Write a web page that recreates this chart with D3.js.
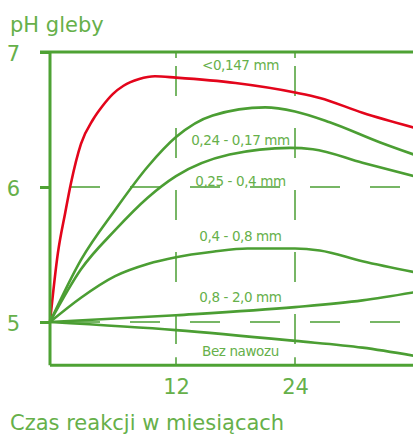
<!DOCTYPE html>
<html>
<head>
<meta charset="utf-8">
<script src="https://cdn.jsdelivr.net/npm/d3@7"></script>
<style>
  body { margin: 0; background: #fff; }
  svg { display: block; font-family: "DejaVu Sans", sans-serif; }
</style>
</head>
<body>
<svg id="chart" width="413" height="434"></svg>
<script>
// dane (miesiące / pH)
const yTicks = [5, 6, 7];
const xTicks = [12, 24];

const redMonths = [0, 0.75, 1.45, 2, 2.95, 4.1, 5, 6, 7, 8.5, 10, 12, 18, 24, 26.5, 30.8, 36];
const redPh     = [5, 5.51, 5.81, 6.03, 6.32, 6.50, 6.60, 6.69, 6.75, 6.80, 6.82, 6.81, 6.77, 6.70, 6.66, 6.55, 6.44];

const g1Months = [0, 2.95, 6.2, 9.3, 12, 15.7, 21, 24, 27.5, 32.6, 36];
const g1Ph     = [5, 5.46, 5.83, 6.15, 6.37, 6.53, 6.59, 6.56, 6.48, 6.33, 6.24];

const g2Months = [0, 2.95, 6.2, 9.3, 12, 17.4, 23.5, 25.8, 30.8, 36];
const g2Ph     = [5, 5.39, 5.68, 5.92, 6.08, 6.24, 6.29, 6.28, 6.18, 6.08];

const g3Months = [0, 2.95, 6.2, 9.3, 12, 15.7, 19.2, 24, 26.5, 30.8, 36];
const g3Ph     = [5, 5.18, 5.34, 5.43, 5.48, 5.52, 5.545, 5.545, 5.53, 5.45, 5.37];

const g4Months = [0, 12, 24, 30.8, 36];
const g4Ph     = [5, 5.05, 5.11, 5.16, 5.22];

const g5Months = [0, 12, 24, 30.8, 36];
const g5Ph     = [5, 4.94, 4.86, 4.81, 4.75];

const labels = ["<0,147 mm", "0,24 - 0,17 mm", "0,25 - 0,4 mm", "0,4 - 0,8 mm", "0,8 - 2,0 mm", "Bez nawozu"];
const labelPh = [6.87, 6.31, 6.01, 5.60, 5.15, 4.75];

const axisColor = "#4ea234";
const lineColor = "#4b9e33";
const textColor = "#66b04a";
const red = "#e3051b";

const svg = d3.select("#chart");

const x = d3.scaleLinear().domain([0, 12, 24, 36]).range([50, 176, 295, 414]);
const y = d3.scaleLinear().domain([5, 7]).range([322, 52]);
const yBottom = 4.68;

const series = [
  { m: redMonths, v: redPh, c: red },
  { m: g1Months, v: g1Ph, c: lineColor },
  { m: g2Months, v: g2Ph, c: lineColor },
  { m: g3Months, v: g3Ph, c: lineColor },
  { m: g4Months, v: g4Ph, c: lineColor },
  { m: g5Months, v: g5Ph, c: lineColor }
];

// siatka przerywana
svg.selectAll(".hgrid")
  .data([5, 6])
  .enter()
  .append("line")
  .attr("x1", x(0)).attr("x2", x(36))
  .attr("y1", d => y(d)).attr("y2", d => y(d))
  .attr("stroke", lineColor)
  .attr("stroke-width", 1.5)
  .attr("stroke-dasharray", "30 30")
  .attr("stroke-dashoffset", 40);

svg.selectAll(".vgrid")
  .data(xTicks)
  .enter()
  .append("line")
  .attr("x1", d => x(d)).attr("x2", d => x(d))
  .attr("y1", y(7)).attr("y2", y(yBottom))
  .attr("stroke", lineColor)
  .attr("stroke-width", 1.5)
  .attr("stroke-dasharray", "30 32")
  .attr("stroke-dashoffset", 48);

// krótkie kreski przy górnej i dolnej linii
xTicks.forEach(t => {
  svg.append("line")
    .attr("x1", x(t)).attr("x2", x(t))
    .attr("y1", y(7)).attr("y2", y(7) + 6)
    .attr("stroke", lineColor).attr("stroke-width", 1.5);
  svg.append("line")
    .attr("x1", x(t)).attr("x2", x(t))
    .attr("y1", y(yBottom) - 8).attr("y2", y(yBottom))
    .attr("stroke", lineColor).attr("stroke-width", 1.5);
});

// krzywe
const line = d3.line()
  .x(d => x(d[0]))
  .y(d => y(d[1]))
  .curve(d3.curveMonotoneX);

series.forEach(s => {
  svg.append("path")
    .datum(s.m.map((m, i) => [m, s.v[i]]))
    .attr("fill", "none")
    .attr("stroke", s.c)
    .attr("stroke-width", 2.6)
    .attr("d", line);
});

// etykiety krzywych
svg.selectAll(".lbl")
  .data(labels)
  .enter()
  .append("text")
  .attr("x", x(18.5))
  .attr("y", (d, i) => y(labelPh[i]))
  .attr("text-anchor", "middle")
  .attr("fill", textColor)
  .attr("font-size", 13.5)
  .attr("letter-spacing", -0.4)
  .text(d => d);

// osie
svg.append("line")
  .attr("x1", x(0) - 10).attr("x2", x(36))
  .attr("y1", y(7)).attr("y2", y(7))
  .attr("stroke", axisColor).attr("stroke-width", 3);

svg.append("line")
  .attr("x1", x(0)).attr("x2", x(36))
  .attr("y1", y(yBottom)).attr("y2", y(yBottom))
  .attr("stroke", axisColor).attr("stroke-width", 3);

const yAxis = svg.append("g")
  .attr("transform", `translate(${x(0)},0)`)
  .call(d3.axisLeft(y).tickValues(yTicks).tickFormat(d3.format("d")).tickSize(10).tickPadding(20));
yAxis.select(".domain").remove();
yAxis.append("line")
  .attr("y1", y(7)).attr("y2", y(yBottom))
  .attr("stroke", axisColor).attr("stroke-width", 3);
yAxis.selectAll(".tick line").attr("stroke", axisColor).attr("stroke-width", 3);
yAxis.selectAll(".tick text")
  .attr("fill", textColor)
  .attr("font-size", 21)
  .attr("font-family", "DejaVu Sans")
  .attr("dy", "0.4em");

const xAxis = svg.append("g")
  .attr("transform", `translate(0,${y(yBottom)})`)
  .call(d3.axisBottom(x).tickValues(xTicks).tickSize(0).tickPadding(14));
xAxis.select(".domain").remove();
xAxis.selectAll(".tick text")
  .attr("fill", textColor)
  .attr("font-size", 21)
  .attr("font-family", "DejaVu Sans");

// tytuły osi
svg.append("text")
  .attr("x", 10).attr("y", 32)
  .attr("fill", textColor)
  .attr("font-size", 21)
  .text("pH gleby");

svg.append("text")
  .attr("x", 10).attr("y", 430)
  .attr("fill", textColor)
  .attr("font-size", 21)
  .text("Czas reakcji w miesiącach");
</script>
</body>
</html>
